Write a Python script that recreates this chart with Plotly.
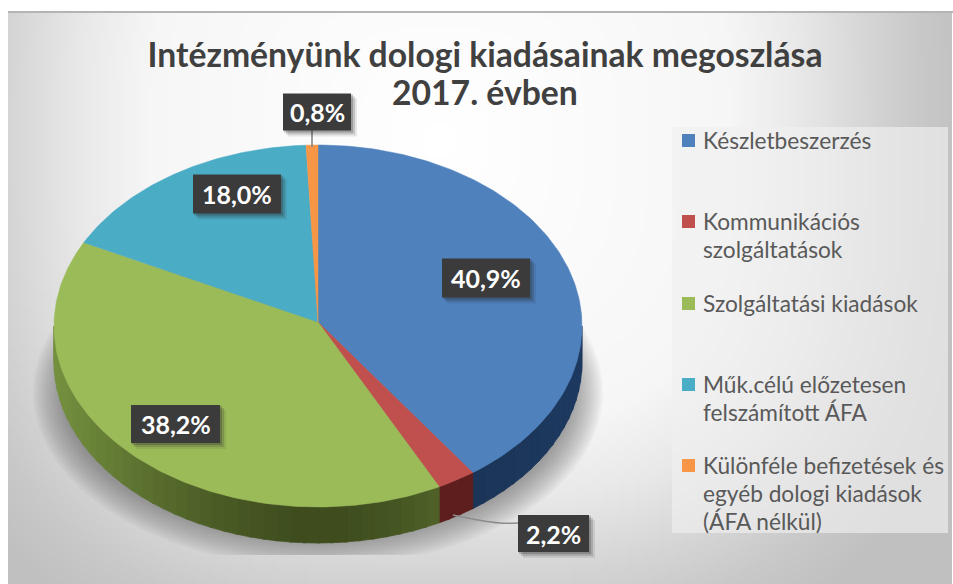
import numpy as np
import plotly.graph_objects as go

# ---- data ----
categories = ["Készletbeszerzés", "Kommunikációs<br>szolgáltatások", "Szolgáltatási kiadások",
              "Műk.célú előzetesen<br>felszámított ÁFA",
              "Különféle befizetések és<br>egyéb dologi kiadások<br>(ÁFA nélkül)"]
values = [40.9, 2.2, 38.2, 18.0, 0.8]
title_lines = ["Intézményünk dologi kiadásainak megoszlása", "2017. évben"]

# ---- styles / layout constants (pixel-like axes) ----
top_colors = ["#4f81bd", "#c0504d", "#9bbb59", "#4bacc6", "#f79646"]
# side wall colour at the front of the disc and at its far left/right edge (r, g, b)
side_front = [(26, 50, 82), (94, 30, 30), (62, 76, 30), (31, 85, 102), (138, 74, 22)]
side_edge = [(30, 58, 96), (94, 30, 30), (118, 146, 64), (31, 85, 102), (138, 74, 22)]
W, H = 953, 584
CX, CY, RX, RY, VY, DEPTH = 318, 326, 264, 181, 322, 36
PERSP = 5.5


def warp(t):
    """Perspective of the tilted disc: fraction angle (deg) -> drawn ellipse angle (deg)."""
    return t - PERSP * np.sin(np.radians(t))


def rim(t, dy=0.0):
    t = np.radians(t)
    return CX + RX * np.sin(t), CY - RY * np.cos(t) + dy


fracs = np.array(values) / sum(values)
edges = np.concatenate([[0], np.cumsum(fracs)]) * 360

fig = go.Figure()

# background gradient
gx = np.arange(10, 953, 4.0)
gy = np.arange(14, 586, 4.0)
XX, YY = np.meshgrid(gx, gy)
dist = (np.abs((XX - 440) / 480) ** 3 + np.abs((YY - 140) / 480) ** 3) ** (1 / 3)
fig.add_trace(go.Heatmap(x=gx, y=gy, z=np.clip(dist, 0, 1.1), zmin=0, zmax=1.1,
                         showscale=False, hoverinfo="skip", xgap=0, ygap=0,
                         colorscale=[[0, "#ffffff"], [0.6 / 1.1, "#f6f6f6"], [0.75 / 1.1, "#e8e8e8"],
                                     [0.9 / 1.1, "#d4d4d4"], [1 / 1.1, "#c8c8c8"], [1, "#c0c0c0"]]))

# soft shadow under the pie
a = np.linspace(0, 2 * np.pi, 300)
for grow in range(-30, 1, 2):
    sx = CX + (RX + 21 + grow) * np.sin(a)
    sy = 392 + (RY - 6 + grow) * np.cos(a)
    fig.add_trace(go.Scatter(x=sx, y=np.minimum(sy, 555), mode="lines", fill="toself",
                             fillcolor="rgba(70,70,75,0.04)", line=dict(width=0),
                             hoverinfo="skip", showlegend=False))

# side walls (only the front half of the rim is visible)
for i in range(len(values)):
    a0, a1 = max(warp(edges[i]), 90), min(warp(edges[i + 1]), 270)
    if a1 <= a0:
        continue
    knots = np.arange(a0, a1, 3.0)
    knots = np.append(knots, a1)
    for s0, s1 in zip(knots[:-1], knots[1:]):
        t = np.linspace(s0, min(s1 + 0.5, a1), 5)
        x_up, y_up = rim(t)
        x_lo, y_lo = rim(t[::-1], DEPTH)
        w = min(1.0, abs(np.sin(np.radians((s0 + s1) / 2))) ** 1.5)
        col = tuple(int(f + (e - f) * w) for f, e in zip(side_front[i], side_edge[i]))
        fig.add_trace(go.Scatter(x=np.concatenate([x_up, x_lo, x_up[:1]]), y=np.concatenate([y_up, y_lo, y_up[:1]]),
                                 mode="lines", fill="toself", fillcolor=f"rgb{col}",
                                 line=dict(width=0.8, color=f"rgb{col}"), hoverinfo="skip", showlegend=False))

# top faces
for i, name in enumerate(categories):
    t = np.linspace(warp(edges[i]), warp(edges[i + 1]), max(8, int(fracs[i] * 360)))
    x_a, y_a = rim(t)
    fig.add_trace(go.Scatter(x=np.concatenate([[CX], x_a, [CX]]), y=np.concatenate([[VY], y_a, [VY]]),
                             mode="lines", fill="toself", fillcolor=top_colors[i],
                             line=dict(width=0.5, color=top_colors[i]),
                             name=name.replace("<br>", " "), hoverinfo="name", showlegend=False))

# leader lines
fig.add_trace(go.Scatter(x=[312, 312], y=[130, 147], mode="lines", line=dict(color="#7f7f7f", width=1.5),
                         hoverinfo="skip", showlegend=False))
fig.add_trace(go.Scatter(x=[453, 478, 500, 518], y=[515, 520, 523, 523], mode="lines",
                         line=dict(color="#8c8c8c", width=1.5, shape="spline"),
                         hoverinfo="skip", showlegend=False))

shapes = []
annotations = []

# outer frame top edge and legend panel
shapes.append(dict(type="line", x0=8, x1=953, y0=12, y1=12, line=dict(color="#b4b4b4", width=2), layer="above"))
shapes.append(dict(type="rect", x0=672, x1=948, y0=127, y1=533, line=dict(width=0),
                   fillcolor="rgba(240,240,240,0.65)", layer="above"))

# data labels: centre x, centre y, width, height
label_boxes = [(486, 278, 88, 39), (553.5, 533.5, 71, 37), (175.5, 424, 89, 38), (237, 194, 88, 39), (317, 112, 68, 37)]
for v, (bx, by, bw, bh) in zip(values, label_boxes):
    for off, alpha in ((6, 0.10), (4, 0.18), (2, 0.25)):
        shapes.append(dict(type="rect", x0=bx - bw / 2 + off - 1, x1=bx + bw / 2 + off, y0=by - bh / 2 + off - 1,
                           y1=by + bh / 2 + off, line=dict(width=0),
                           fillcolor=f"rgba(40,40,40,{alpha})", layer="above"))
    shapes.append(dict(type="rect", x0=bx - bw / 2, x1=bx + bw / 2, y0=by - bh / 2, y1=by + bh / 2,
                       line=dict(width=0), fillcolor="#3b3b3b", layer="above"))
    annotations.append(dict(x=bx, y=by, xref="x", yref="y", showarrow=False,
                            text="<b>" + f"{v:.1f}".replace(".", ",") + "%</b>",
                            font=dict(family="Lato", size=25, color="#ffffff"),
                            xanchor="center", yanchor="middle"))

# legend
legend_y = [140, 221, 303, 384, 465]
for name, color, ly in zip(categories, top_colors, legend_y):
    shapes.append(dict(type="rect", x0=682, x1=695, y0=ly - 6, y1=ly + 7, line=dict(width=0),
                       fillcolor=color, layer="above"))
    for k, line_text in enumerate(name.split("<br>")):
        annotations.append(dict(x=701, y=ly + 28 * k, xref="x", yref="y", showarrow=False, text=line_text,
                                align="left", xanchor="left", yanchor="middle",
                                font=dict(family="Lato", size=22.7, color="#595959")))

# second title line
annotations.append(dict(x=485, y=92, xref="x", yref="y", showarrow=False, text="<b>" + title_lines[1] + "</b>",
                        xanchor="center", yanchor="middle",
                        font=dict(family="Lato", size=33.7, color="#404040")))

fig.update_layout(
    width=W, height=H, margin=dict(l=0, r=0, t=0, b=0),
    paper_bgcolor="#ffffff", plot_bgcolor="#ffffff", showlegend=False,
    title=dict(text="<b>" + title_lines[0] + "</b>", x=485 / W, xanchor="center",
               y=1 - 55 / H, yanchor="middle", yref="container",
               font=dict(family="Lato", size=33.7, color="#404040")),
    xaxis=dict(range=[0, W], visible=False, fixedrange=True),
    yaxis=dict(range=[H, 0], visible=False, fixedrange=True),
    shapes=shapes, annotations=annotations,
)
fig.write_html("out.html", post_script="document.body.style.margin='0';", config=dict(displayModeBar=False))
